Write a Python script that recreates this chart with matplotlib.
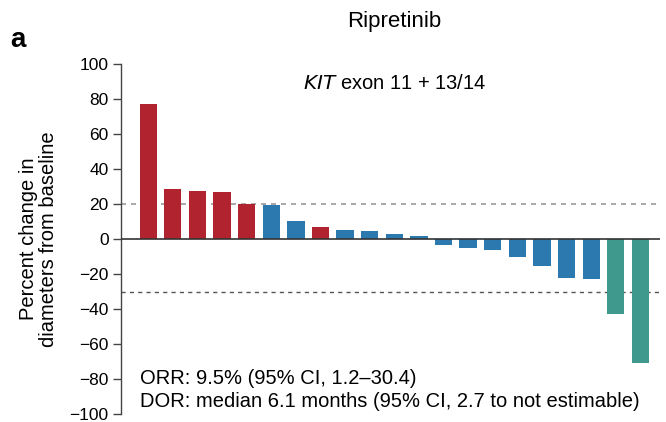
import matplotlib.pyplot as plt
import numpy as np

plt.rcParams['font.family'] = ['Liberation Sans', 'DejaVu Sans']

# percent change per patient, sorted, with response group
values = [77, 28.5, 27.5, 27, 20.3, 19.7, 10.5, 7, 5, 4.5, 3, 2,
          -3.5, -5, -6, -10, -15.5, -22, -23, -43, -71]
groups = ['pd'] * 5 + ['sd', 'sd', 'pd'] + ['sd'] * 11 + ['pr', 'pr']
colors = {'pd': '#b0232f', 'sd': '#2c79b0', 'pr': '#3f998d'}
yticks = np.arange(-100, 101, 20)

fig = plt.figure(figsize=(6.66, 4.22), dpi=100)
ax = fig.add_axes([0.182, 0.019, 0.809, 0.829])

x = np.arange(len(values))
ax.bar(x, values, width=0.7, color=[colors[g] for g in groups], zorder=2)

ax.axhline(0, color='#333333', lw=1.2, zorder=3)
ax.axhline(20, color='#999999', lw=1.2, ls=(0, (3, 3)), zorder=1)
ax.axhline(-30, color='#555555', lw=1.0, ls=(0, (3, 3)), zorder=1)

ax.set_ylim(-100, 100)
ax.set_xlim(-1.1, 20.8)
ax.set_yticks(yticks)
ax.set_yticklabels([str(t).replace('-', '\u2212') for t in yticks], fontsize=12.5)
ax.tick_params(axis='y', length=6, width=1, color='#444444', pad=3)
ax.set_xticks([])
for s in ['top', 'right', 'bottom']:
    ax.spines[s].set_visible(False)
ax.spines['left'].set_color('#444444')
ax.spines['left'].set_linewidth(1)
ax.set_ylabel('Percent change in\ndiameters from baseline', fontsize=14.5,
              labelpad=8, linespacing=1.1)

ax.text(0.508, 0.946, r'$\it{KIT}$ exon 11 + 13/14', transform=ax.transAxes,
        ha='center', va='center', fontsize=14.5)
ax.text(-0.35, -80, 'ORR: 9.5% (95% CI, 1.2\u201330.4)', fontsize=14.5, va='center')
ax.text(-0.35, -93, 'DOR: median 6.1 months (95% CI, 2.7 to not estimable)',
        fontsize=14.5, va='center')

fig.text(0.592, 0.95, 'Ripretinib', ha='center', va='center', fontsize=16)
fig.text(0.015, 0.905, 'a', fontsize=20, fontweight='bold', va='center')

fig.savefig('out.png', dpi=100)
